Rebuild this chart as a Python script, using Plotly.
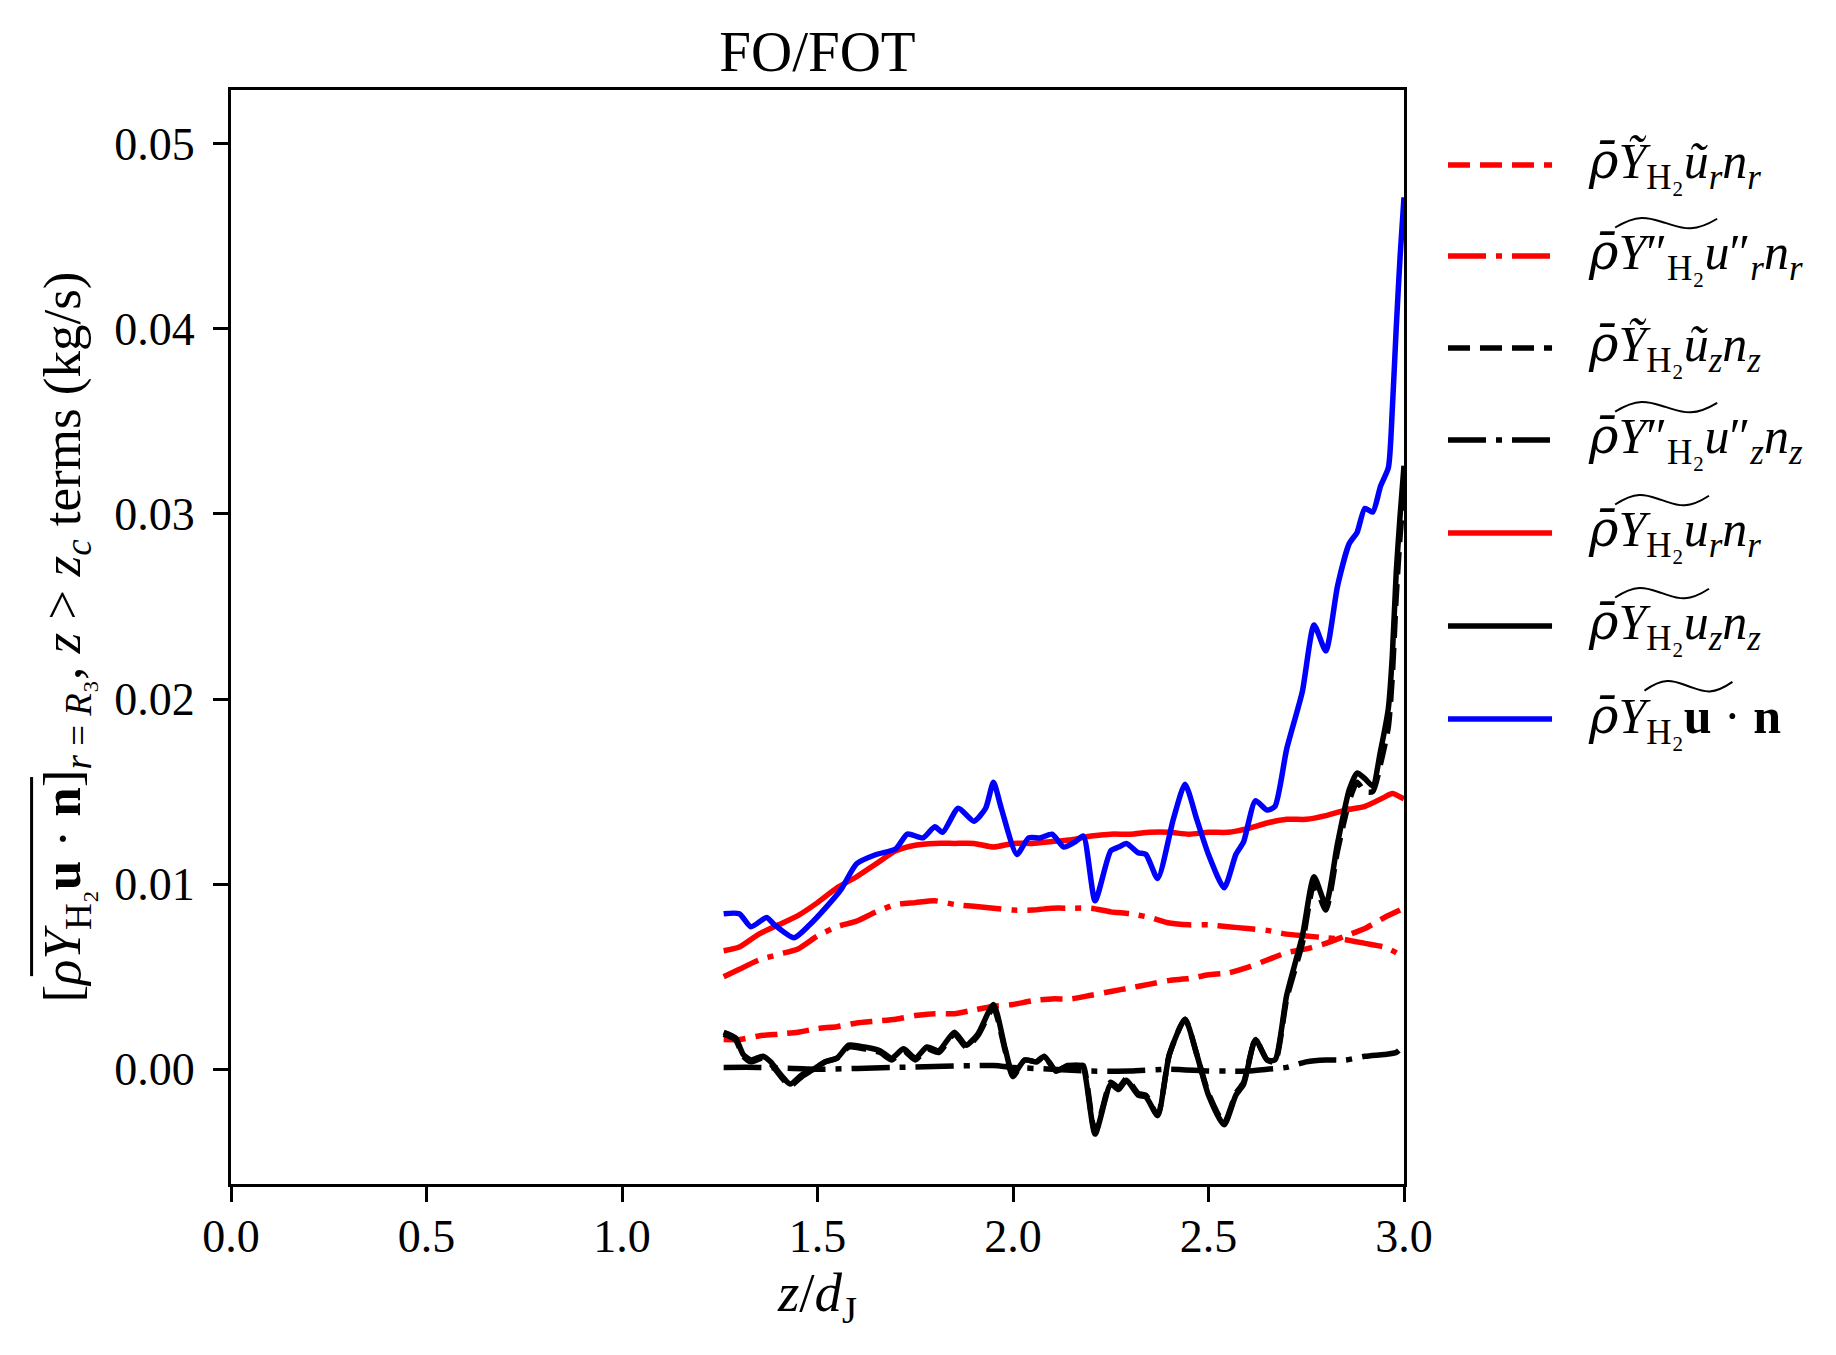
import plotly.graph_objects as go

# ---------------- data ----------------
z_rdash = [1.26,1.30,1.35,1.40,1.45,1.50,1.55,1.60,1.65,1.70,1.75,1.80,1.85,1.90,1.95,2.00,2.05,2.10,2.15,2.20,2.25,2.30,2.35,2.40,2.45,2.50,2.55,2.60,2.65,2.70,2.75,2.80,2.85,2.90,2.95,3.00]
v_rdash = [0.0016,0.0016,0.0018,0.0019,0.0020,0.0022,0.0023,0.0025,0.0026,0.0027,0.0029,0.0030,0.0030,0.0032,0.0034,0.0035,0.0037,0.0038,0.0038,0.0040,0.0042,0.0044,0.0046,0.0048,0.0049,0.0051,0.0052,0.0055,0.0059,0.0063,0.0065,0.0068,0.0072,0.0076,0.0082,0.0087]

z_rdd = [1.26,1.30,1.35,1.40,1.45,1.50,1.55,1.60,1.65,1.70,1.75,1.80,1.85,1.90,1.95,2.00,2.05,2.10,2.15,2.20,2.25,2.30,2.35,2.40,2.45,2.50,2.55,2.60,2.65,2.70,2.75,2.80,2.85,2.90,2.95,2.98,3.00]
v_rdd = [0.0050,0.0054,0.0059,0.0062,0.0065,0.0072,0.0077,0.0080,0.0085,0.0089,0.0090,0.0091,0.0089,0.0088,0.0087,0.0086,0.0086,0.0087,0.0087,0.0087,0.0085,0.0084,0.0082,0.0079,0.0078,0.0078,0.0077,0.0076,0.0075,0.0073,0.0072,0.0071,0.0070,0.0068,0.0066,0.0063,0.0060]

z_kdd = [1.26,1.35,1.50,1.70,1.95,2.00,2.10,2.20,2.30,2.40,2.50,2.55,2.60,2.65,2.70,2.75,2.80,2.85,2.90,2.95,2.98,3.00]
v_kdd = [0.0001,0.0001,0.0000,0.0001,0.0002,0.0001,0.0000,-0.0001,-0.0001,0.0000,-0.0001,-0.0001,-0.0001,0.0000,0.0001,0.0004,0.0005,0.0005,0.0007,0.0008,0.0009,0.0013]

z_rsol = [1.26,1.30,1.35,1.40,1.45,1.50,1.55,1.60,1.65,1.70,1.75,1.80,1.85,1.90,1.95,2.00,2.05,2.10,2.15,2.20,2.25,2.30,2.35,2.40,2.45,2.50,2.55,2.60,2.65,2.70,2.75,2.80,2.85,2.90,2.95,2.97,3.00]
v_rsol = [0.0064,0.0066,0.0073,0.0078,0.0083,0.0090,0.0098,0.0104,0.0111,0.0118,0.0121,0.0122,0.0122,0.0122,0.0120,0.0122,0.0122,0.0123,0.0124,0.0126,0.0127,0.0127,0.0128,0.0128,0.0127,0.0128,0.0128,0.0130,0.0133,0.0135,0.0135,0.0137,0.0140,0.0142,0.0147,0.0149,0.0146]

z_k = [1.26,1.29,1.31,1.33,1.36,1.38,1.41,1.43,1.46,1.49,1.52,1.55,1.58,1.62,1.66,1.69,1.72,1.75,1.78,1.81,1.85,1.88,1.91,1.95,1.98,2.00,2.03,2.06,2.08,2.11,2.14,2.17,2.18,2.21,2.25,2.27,2.29,2.32,2.34,2.37,2.40,2.44,2.47,2.50,2.54,2.57,2.59,2.62,2.65,2.67,2.70,2.74,2.77,2.80,2.83,2.86,2.88,2.90,2.92,2.94,2.96,2.97,2.98,2.99,3.00]
v_ksol = [0.0020,0.0017,0.0008,0.0005,0.0007,0.0004,-0.0004,-0.0008,-0.0003,0.0000,0.0004,0.0006,0.0013,0.0012,0.0010,0.0006,0.0011,0.0006,0.0012,0.0010,0.0020,0.0013,0.0019,0.0035,0.0011,-0.0003,0.0005,0.0004,0.0007,-0.0001,0.0002,0.0002,0.0001,-0.0035,-0.0008,-0.0011,-0.0006,-0.0014,-0.0015,-0.0025,0.0008,0.0027,0.0008,-0.0014,-0.0030,-0.0014,-0.0008,0.0016,0.0005,0.0005,0.0040,0.0072,0.0104,0.0089,0.0122,0.0151,0.0160,0.0157,0.0153,0.0172,0.0195,0.0223,0.0268,0.0299,0.0326]
v_kdash = [0.0019,0.0016,0.0007,0.0004,0.0006,0.0003,-0.0005,-0.0009,-0.0004,0.0000,0.0004,0.0006,0.0012,0.0011,0.0009,0.0005,0.0010,0.0005,0.0011,0.0009,0.0019,0.0012,0.0018,0.0033,0.0010,-0.0004,0.0005,0.0004,0.0007,-0.0001,0.0002,0.0002,0.0002,-0.0034,-0.0007,-0.0010,-0.0005,-0.0013,-0.0014,-0.0025,0.0008,0.0027,0.0008,-0.0013,-0.0029,-0.0013,-0.0007,0.0016,0.0005,0.0004,0.0038,0.0068,0.0100,0.0086,0.0118,0.0145,0.0155,0.0150,0.0150,0.0165,0.0185,0.0212,0.0255,0.0288,0.0312]

z_b = [1.26,1.30,1.33,1.37,1.39,1.44,1.48,1.52,1.56,1.60,1.65,1.70,1.73,1.77,1.80,1.82,1.86,1.90,1.93,1.95,1.97,2.01,2.04,2.07,2.10,2.13,2.16,2.18,2.21,2.25,2.27,2.29,2.32,2.34,2.37,2.41,2.44,2.47,2.50,2.54,2.57,2.59,2.62,2.65,2.67,2.70,2.74,2.77,2.80,2.83,2.86,2.88,2.90,2.92,2.94,2.96,2.97,2.98,2.99,3.00]
v_b = [0.0084,0.0084,0.0077,0.0082,0.0078,0.0071,0.0078,0.0087,0.0097,0.0111,0.0116,0.0119,0.0127,0.0125,0.0131,0.0128,0.0141,0.0134,0.0141,0.0155,0.0141,0.0116,0.0125,0.0125,0.0127,0.0120,0.0123,0.0126,0.0091,0.0118,0.0120,0.0122,0.0117,0.0116,0.0103,0.0135,0.0154,0.0135,0.0116,0.0098,0.0116,0.0123,0.0145,0.0140,0.0142,0.0173,0.0204,0.0240,0.0226,0.0261,0.0284,0.0290,0.0303,0.0301,0.0315,0.0325,0.0356,0.0400,0.0439,0.0471]

x_ticks = [0.0, 0.5, 1.0, 1.5, 2.0, 2.5, 3.0]
y_ticks = [0.00, 0.01, 0.02, 0.03, 0.04, 0.05]

# ---------------- styles ----------------
FONT = "Liberation Serif, DejaVu Serif, serif"
RED = "#ff0000"
BLUE = "#0000ff"
BLACK = "#000000"
LW = 5.5
DASH = "22px,10px"
DASHDOT = "38px,10px,6px,10px"

# the page body has an 8px margin, so the figure is sized to fit the window
W, H = 1828, 1347
ML, MR, MT, MB = 223, 432, 82, 171

series = [
    (z_rdash, v_rdash, RED, DASH),
    (z_rdd, v_rdd, RED, DASHDOT),
    (z_k, v_kdash, BLACK, DASH),
    (z_kdd, v_kdd, BLACK, DASHDOT),
    (z_rsol, v_rsol, RED, "solid"),
    (z_k, v_ksol, BLACK, "solid"),
    (z_b, v_b, BLUE, "solid"),
]

fig = go.Figure()
for zz, vv, col, dash in series:
    fig.add_trace(go.Scatter(x=zz, y=vv, mode="lines",
                             line=dict(color=col, width=LW, dash=dash, shape="spline", smoothing=0.6),
                             showlegend=False, hoverinfo="skip"))

# ---------------- legend (manual) ----------------
RB = "<span style='font-family:DejaVu Serif'><i>ρ\u0304</i></span>"
labels = [
    f"{RB}<i>Ỹ</i><sub>H₂</sub><i>ũ<sub>r</sub>n<sub>r</sub></i>",
    f"{RB}<i>Y</i>″<sub>H₂</sub><i>u</i>″<sub><i>r</i></sub><i>n<sub>r</sub></i>",
    f"{RB}<i>Ỹ</i><sub>H₂</sub><i>ũ<sub>z</sub>n<sub>z</sub></i>",
    f"{RB}<i>Y</i>″<sub>H₂</sub><i>u</i>″<sub><i>z</i></sub><i>n<sub>z</sub></i>",
    f"{RB}<i>Y</i><sub>H₂</sub><i>u<sub>r</sub>n<sub>r</sub></i>",
    f"{RB}<i>Y</i><sub>H₂</sub><i>u<sub>z</sub>n<sub>z</sub></i>",
    f"{RB}<i>Y</i><sub>H₂</sub><b>u</b> · <b>n</b>",
]
TX = 1.155
wide_tilde = [None, (1.180, 1.267), None, (1.180, 1.267), (1.180, 1.260), (1.180, 1.260), (1.205, 1.280)]
row_y = [0.9315, 0.8483, 0.7642, 0.6801, 0.5951, 0.5101, 0.4250]
for (zz, vv, col, dash), lab, yy, wt in zip(series, labels, row_y, wide_tilde):
    fig.add_shape(type="line", xref="paper", yref="paper", x0=1.0375, x1=1.1262, y0=yy, y1=yy,
                  line=dict(color=col, width=LW, dash=dash))
    fig.add_annotation(xref="paper", yref="paper", x=TX, y=yy, text=lab, showarrow=False,
                       xanchor="left", yanchor="middle", font=dict(family=FONT, size=50, color="black"))
    if wt is not None:
        x0, x1 = wt
        yt = yy + 0.030
        xm = (x0 + x1) / 2
        a = 0.004
        path = (f"M {x0},{yt - a} C {x0 + (xm - x0) * 0.5},{yt + a * 2.5} {xm - (xm - x0) * 0.3},{yt + a} {xm},{yt} "
                f"S {x1 - (x1 - xm) * 0.5},{yt - a * 2.5} {x1},{yt + a}")
        fig.add_shape(type="path", xref="paper", yref="paper", path=path, line=dict(color="black", width=2))

# ---------------- y-axis label (annotation + overline) ----------------
ylab = ("[<i>ρY</i><sub>H₂</sub><b>u</b> · <b>n</b>]"
        "<sub><i>r</i> = <i>R</i>₃</sub>, <i>z</i> > <i>z<sub>c</sub></i> terms (kg/s)")
fig.add_annotation(xref="paper", yref="paper", x=-0.141, y=0.5, text=ylab, textangle=-90,
                   showarrow=False, xanchor="center", yanchor="middle",
                   font=dict(family=FONT, size=53, color="black"))
fig.add_shape(type="line", xref="paper", yref="paper", x0=-0.170, x1=-0.170, y0=0.190, y1=0.372,
              line=dict(color="black", width=3))

fig.update_layout(
    width=W, height=H,
    margin=dict(l=ML, r=MR, t=MT, b=MB),
    paper_bgcolor="white", plot_bgcolor="white",
    font=dict(family=FONT, size=46, color="black"),
    title=dict(text="FO/FOT", x=(ML + (W - MR)) / 2 / W, xanchor="center", y=1 - 43 / H, yanchor="middle",
               font=dict(family=FONT, size=57)),
    xaxis=dict(range=[0, 3], tickvals=x_ticks, ticktext=[f"{t:.1f}" for t in x_ticks],
               ticks="outside", ticklen=15, tickwidth=3, tickcolor="black",
               showline=True, linecolor="black", linewidth=3, mirror=True,
               showgrid=False, zeroline=False, automargin=False, ticklabelstandoff=-5,
               title=dict(text="<i>z</i>/<i>d</i><sub>J</sub>", standoff=6, font=dict(size=55))),
    yaxis=dict(range=[-0.0062, 0.0529], tickvals=y_ticks, ticktext=[f"{t:.2f}" for t in y_ticks],
               ticks="outside", ticklen=15, tickwidth=3, tickcolor="black",
               showline=True, linecolor="black", linewidth=3, mirror=True,
               showgrid=False, zeroline=False, automargin=False, ticklabelstandoff=9),
)

fig.write_html("out.html")
